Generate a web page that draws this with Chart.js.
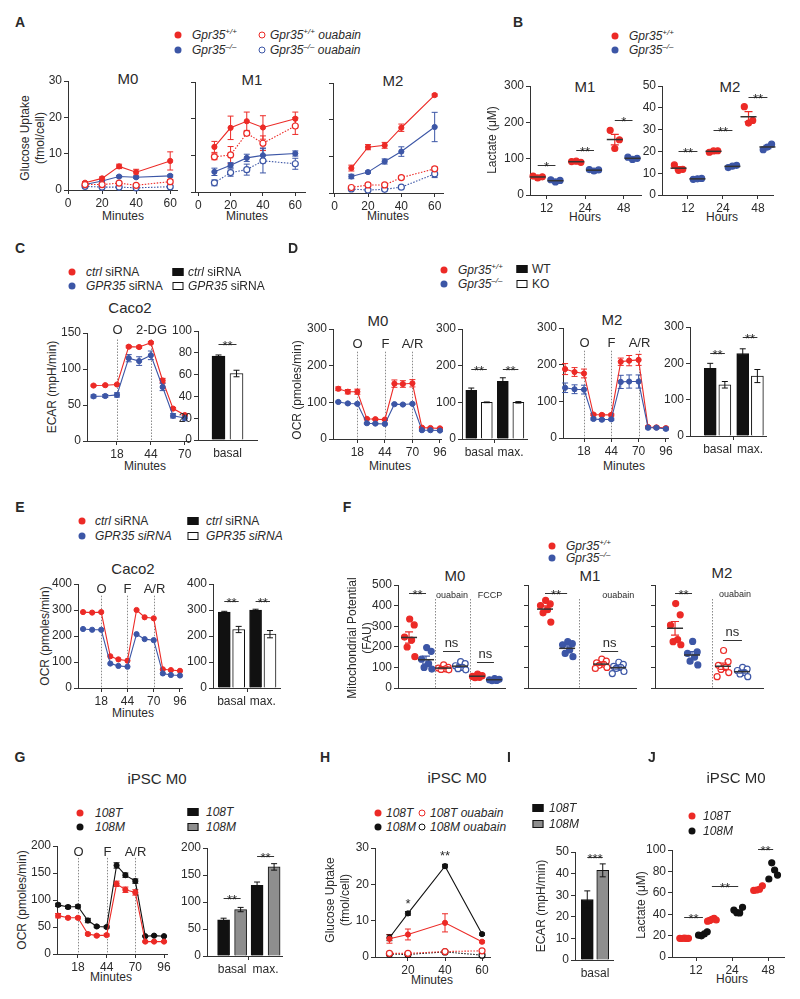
<!DOCTYPE html>
<html>
<head>
<meta charset="utf-8">
<script src="https://cdn.jsdelivr.net/npm/chart.js@4.4.1/dist/chart.umd.min.js"></script>
<style>
  body { margin: 0; background: #fff; }
  #page { position: relative; width: 800px; height: 999px; overflow: hidden; font-family: "Liberation Sans", Arial, sans-serif; color: #2a2a2a; }
  .t { position: absolute; white-space: nowrap; transform: translate(-50%, -50%); font-size: 12px; line-height: 1; }
  .l { transform: translate(0, -50%); }
  .r { transform: translate(-50%, -50%) rotate(-90deg); }
  .p { font-weight: bold; font-size: 14px; }
  .h { font-size: 15px; }
  .m { position: absolute; transform: translate(-50%, -50%); box-sizing: border-box; }
  canvas { position: absolute; }
  sup { font-size: 8px; vertical-align: 5px; line-height: 0; }
</style>
</head>
<body>
<div id="page"></div>
<script>
"use strict";

//---- data ----
// A: glucose uptake (fmol/cell)
const aMinutes = [10, 20, 30, 40, 60];
const aTicksX = [0, 20, 40, 60];
const aTicksY = [0, 10, 20, 30];
const aM0Wt = [2.0, 3.2, 6.5, 4.9, 8.0];
const aM0WtErr = [0.3, 0.4, 0.6, 0.8, 2.5];
const aM0Ko = [1.5, 2.5, 3.7, 3.5, 3.9];
const aM0KoErr = [0.3, 0.3, 0.3, 0.3, 0.3];
const aM0WtOua = [1.5, 1.5, 1.9, 1.3, 2.3];
const aM0WtOuaErr = [0.3, 0.3, 0.3, 0.3, 0.6];
const aM0KoOua = [1.0, 0.8, 0.8, 0.6, 0.9];
const aM0KoOuaErr = [0.2, 0.2, 0.2, 0.2, 0.3];
const aM1Wt = [12.3, 17.5, 19.3, 17.6, 20.0];
const aM1WtErr = [1.5, 3.2, 2.5, 3.2, 1.8];
const aM1Ko = [5.5, 7.3, 9.3, 10.0, 10.5];
const aM1KoErr = [1.0, 0.7, 1.0, 2.0, 0.7];
const aM1WtOua = [9.6, 10.1, 16.0, 13.3, 18.0];
const aM1WtOuaErr = [0.8, 2.3, 0.5, 2.0, 2.3];
const aM1KoOua = [2.5, 5.3, 6.1, 8.5, 7.7];
const aM1KoOuaErr = [0.8, 1.0, 1.5, 3.3, 1.5];
const aM2Wt = [6.8, 12.5, 13.0, 17.8, 26.7];
const aM2WtErr = [0.8, 0.7, 0.8, 1.0, 0.3];
const aM2Ko = [4.5, 5.7, 8.6, 11.3, 18.0];
const aM2KoErr = [0.6, 0.3, 0.7, 1.3, 4.0];
const aM2WtOua = [1.5, 2.2, 2.2, 4.2, 6.6];
const aM2WtOuaErr = [0.3, 0.3, 0.3, 0.4, 0.5];
const aM2KoOua = [1.1, 0.8, 1.0, 1.6, 5.2];
const aM2KoOuaErr = [0.3, 0.3, 0.3, 0.3, 1.0];

// B: lactate (uM), three wells per time point
const bHours = ['12', '24', '48'];
const bM1Wt = [[52, 47, 50], [92, 93, 90], [178, 128, 152]];
const bM1Ko = [[42, 36, 40], [70, 66, 69], [104, 98, 101]];
const bM2Wt = [[13.8, 11.3, 11.8], [19.6, 20.2, 20.3], [40.5, 33.0, 34.2]];
const bM2Ko = [[7.2, 7.4, 7.6], [12.6, 13.2, 13.6], [20.8, 22.0, 23.3]];

// seahorse time points (minutes)
const seahorseMin = [0, 9, 18, 27, 35, 44, 53, 61, 70, 79, 87, 96];
const injTicks = [18, 44, 70, 96];

// C: ECAR Caco2
const cCtrl = [77, 77.5, 78.5, 131, 130.5, 136.5, 84, 45, 36];
const cCtrlErr = [1, 1, 1, 1.5, 1.5, 1.5, 3, 1.5, 1.5];
const cGpr35 = [62, 62.5, 64, 115, 111, 119, 75, 35, 32];
const cGpr35Err = [2, 2, 3, 5, 6, 6, 5, 3, 4];
const cBasalCtrl = [77];
const cBasalCtrlErr = [1];
const cBasalGpr35 = [61];
const cBasalGpr35Err = [3];

// D: OCR macrophages
const dM0Wt = [137, 129, 129, 55, 54, 53, 151, 150, 152, 31, 30, 29];
const dM0WtErr = [5, 6, 7, 2, 2, 2, 10, 9, 10, 2, 2, 2];
const dM0Ko = [101, 97, 96, 43, 42, 41, 95, 94, 96, 24, 24, 23];
const dM0KoErr = [2, 2, 2, 2, 2, 2, 2, 2, 2, 2, 2, 2];
const dM2Wt = [188, 180, 176, 64, 63, 63, 208, 211, 213, 30, 29, 27];
const dM2WtErr = [15, 12, 12, 3, 3, 3, 10, 14, 15, 3, 3, 3];
const dM2Ko = [137, 133, 132, 52, 50, 51, 153, 154, 154, 28, 28, 25];
const dM2KoErr = [13, 12, 12, 3, 3, 3, 18, 18, 18, 3, 3, 3];
const barCats = ['basal', '', 'max.'];
const dM0BarWt = [133, 157];
const dM0BarWtErr = [6, 10];
const dM0BarKo = [100, 100];
const dM0BarKoErr = [1, 2];
const dM2BarWt = [186, 227];
const dM2BarWtErr = [14, 13];
const dM2BarKo = [141, 165];
const dM2BarKoErr = [9, 18];

// E: OCR Caco2
const eCtrl = [292, 290, 292, 122, 110, 105, 300, 272, 268, 72, 69, 66];
const eGpr35 = [227, 224, 224, 94, 85, 82, 207, 188, 184, 56, 50, 48];
const eBarCtrl = [292, 300];
const eBarCtrlErr = [3, 3];
const eBarGpr35 = [225, 207];
const eBarGpr35Err = [12, 14];

// F: mitochondrial potential (FAU)
const fM0Wt = [335, 306, 247, 233, 199, 152];
const fM0Ko = [196, 178, 140, 118, 100, 92];
const fM0WtOua = [112, 100, 96, 93, 90, 88];
const fM0KoOua = [128, 118, 108, 100, 94, 88];
const fM0WtFccp = [68, 60, 56, 52, 50];
const fM0KoFccp = [46, 42, 40, 37, 36];
const fM1Wt = [425, 408, 400, 380, 365, 320];
const fM1Ko = [225, 215, 210, 185, 168, 152];
const fM1WtOua = [140, 130, 122, 115, 110, 100, 95];
const fM1KoOua = [125, 115, 105, 100, 95, 80, 70];
const fM2Wt = [410, 355, 305, 235, 225, 210];
const fM2Ko = [226, 175, 168, 150, 130, 112];
const fM2WtOua = [182, 128, 110, 100, 90, 75, 55];
const fM2KoOua = [100, 92, 85, 75, 68, 55];

// G: OCR iPSC M0
const g108T = [71, 67, 67, 37, 34, 35, 130, 119, 114, 23, 23, 23];
const g108TErr = [4, 2, 2, 2, 2, 2, 5, 5, 5, 1, 1, 1];
const g108M = [91, 87, 88, 62, 51, 50, 164, 146, 135, 33, 34, 33];
const g108MErr = [3, 3, 3, 4, 2, 2, 5, 4, 4, 1, 1, 1];
const gBar108T = [67, 131];
const gBar108TErr = [3, 6];
const gBar108M = [86, 165];
const gBar108MErr = [4, 6];

// H: glucose uptake iPSC M0
const hMinutes = [10, 20, 40, 60];
const hTicksX = [20, 40, 60];
const h108T = [5.0, 6.2, 9.4, 4.2];
const h108TErr = [1.2, 1.5, 2.5, 0.3];
const h108M = [5.3, 12.0, 25.0, 6.3];
const h108MErr = [0.8, 0.5, 0.5, 0.3];
const h108TOua = [1.0, 1.0, 1.5, 1.7];
const h108MOua = [0.8, 0.7, 1.4, 0.5];

// I: ECAR iPSC M0
const i108T = [28];
const i108TErr = [4];
const i108M = [41.5];
const i108MErr = [3];

// J: lactate iPSC M0
const jHours = ['12', '24', '48'];
const j108T = [[17.5, 17.3, 17.6, 17.4, 17.5], [33.5, 34.2, 35.2, 36.1, 34.6], [62.2, 62.6, 63.3, 66.6]];
const j108M = [[20.4, 19.8, 21.6, 23.6], [43.9, 41.4, 41.2, 46.4], [72.9, 88.0, 81.3, 76.6]];

//---- styles / helpers ----
const FONT = '"Liberation Sans", Arial, sans-serif';
const RED = "#ec2a26";
const BLUE = "#3c56a6";
const BLK = "#111111";
const GRAY = "#8e8e8e";
const AX = "#333333";
// horizontal scatter of dots inside a group (fraction of the spread)
const JITTER = [0.1, 0.8, -0.7, 0.4, -0.3, 0.9, -0.9];

Chart.defaults.font.family = FONT;
Chart.defaults.font.size = 12;
Chart.defaults.color = "#2a2a2a";

const page = document.getElementById("page");

function T(x, y, html, cls, style) {
  const d = document.createElement("div");
  d.className = "t " + (cls || "");
  d.style.left = x + "px";
  d.style.top = y + "px";
  d.innerHTML = html;
  if (style) Object.assign(d.style, style);
  page.appendChild(d);
}
function dot(x, y, color, open) {
  const d = document.createElement("div");
  d.className = "m";
  Object.assign(d.style, { left: x + "px", top: y + "px", width: "7px", height: "7px", borderRadius: "50%",
    background: open ? "#fff" : color, border: open ? "1.2px solid " + color : "none" });
  page.appendChild(d);
}
function box(x, y, fill) {
  const d = document.createElement("div");
  d.className = "m";
  Object.assign(d.style, { left: x + "px", top: y + "px", width: "11px", height: "8px", background: fill, border: "1px solid #111" });
  page.appendChild(d);
}

function text(ctx, s, x, y, size, base) {
  ctx.font = size + "px " + FONT;
  ctx.fillStyle = "#2a2a2a";
  ctx.textAlign = "center";
  ctx.textBaseline = base;
  ctx.fillText(s, x, y);
}

function drawErrors(chart, bars) {
  const { ctx } = chart;
  const y = chart.scales.y;
  chart.data.datasets.forEach((ds, i) => {
    if (!ds.err) return;
    const meta = chart.getDatasetMeta(i);
    if ((meta.type === "bar") !== bars) return;
    ctx.save();
    ctx.strokeStyle = ds.errColor;
    ctx.lineWidth = 1;
    meta.data.forEach((el, j) => {
      const e = ds.err[j];
      if (!e) return;
      const v = ds.data[j].y;
      const px = el.x;
      const y1 = y.getPixelForValue(v + e), y2 = y.getPixelForValue(v - e);
      ctx.beginPath();
      ctx.moveTo(px, y1); ctx.lineTo(px, y2);
      ctx.moveTo(px - 3, y1); ctx.lineTo(px + 3, y1);
      ctx.moveTo(px - 3, y2); ctx.lineTo(px + 3, y2);
      ctx.stroke();
    });
    ctx.restore();
  });
}

// mean +/- sem for dot clusters
function drawSummaries(chart, w) {
  const { ctx, scales: { x, y } } = chart;
  chart.data.datasets.forEach((ds) => {
    if (ds.summary === undefined) return;
    const vals = ds.data.map(p => p.y);
    const n = vals.length;
    const m = vals.reduce((a, b) => a + b, 0) / n;
    const sd = Math.sqrt(vals.reduce((a, b) => a + (b - m) * (b - m), 0) / (n - 1));
    const sem = sd / Math.sqrt(n);
    const px = x.getPixelForValue(ds.summary);
    const py = y.getPixelForValue(m);
    ctx.save();
    ctx.strokeStyle = ds.errColor;
    ctx.lineWidth = 1.2;
    const y1 = y.getPixelForValue(m + sem), y2 = y.getPixelForValue(m - sem);
    ctx.beginPath();
    ctx.moveTo(px, y1); ctx.lineTo(px, y2);
    ctx.moveTo(px - 4, y1); ctx.lineTo(px + 4, y1);
    ctx.moveTo(px - 4, y2); ctx.lineTo(px + 4, y2);
    ctx.stroke();
    ctx.strokeStyle = "#333";
    ctx.lineWidth = 1.5;
    ctx.beginPath();
    ctx.moveTo(px - w / 2, py); ctx.lineTo(px + w / 2, py);
    ctx.stroke();
    ctx.restore();
  });
}

function marks(o) {
  return {
    id: "marks",
    beforeDatasetsDraw(chart) {
      const { ctx, chartArea: a, scales: { x, y } } = chart;
      ctx.save();
      (o.vlines || []).forEach(v => {
        const px = Math.round(x.getPixelForValue(v.x)) + 0.5;
        ctx.strokeStyle = "#8a8a8a";
        ctx.lineWidth = 1;
        ctx.setLineDash([1.5, 1.5]);
        ctx.beginPath();
        ctx.moveTo(px, y.getPixelForValue(v.from));
        ctx.lineTo(px, a.bottom);
        ctx.stroke();
        ctx.setLineDash([]);
        if (v.label) text(ctx, v.label, px, y.getPixelForValue(v.at), 13, "middle");
      });
      ctx.restore();
      drawErrors(chart, false);
    },
    afterDatasetsDraw(chart) {
      drawErrors(chart, true);
      drawSummaries(chart, o.meanW || 16);
      const { ctx, scales: { x, y } } = chart;
      ctx.save();
      (o.sig || []).forEach(s => {
        const x1 = x.getPixelForValue(s.x1), x2 = x.getPixelForValue(s.x2);
        const py = Math.round(y.getPixelForValue(s.y)) + 0.5;
        ctx.strokeStyle = "#333";
        ctx.lineWidth = 1;
        ctx.beginPath(); ctx.moveTo(x1, py); ctx.lineTo(x2, py); ctx.stroke();
        const star = s.text.indexOf("*") >= 0;
        text(ctx, s.text, (x1 + x2) / 2, star ? py + 5 : py - 2, 13, star ? "alphabetic" : "bottom");
      });
      (o.texts || []).forEach(t => {
        text(ctx, t.text, x.getPixelForValue(t.x), y.getPixelForValue(t.y), t.size || 9, "middle");
      });
      ctx.restore();
    }
  };
}

function axis(min, max, ticks, labels, hideLabeled) {
  return {
    type: "linear", min, max, offset: false,
    afterBuildTicks: s => { s.ticks = ticks.map(value => ({ value })); },
    ticks: { autoSkip: false, maxRotation: 0, padding: 2, color: "#2a2a2a", font: { size: 12 },
      callback: (v, i) => (labels ? String(labels[i]) : "") },
    grid: { drawOnChartArea: false, offset: false, tickLength: 4, color: AX,
      tickColor: c => (hideLabeled && c.tick && labels && labels[ticks.indexOf(c.tick.value)] !== "") ? "rgba(0,0,0,0)" : AX },
    border: { display: true, color: AX, width: 1 }
  };
}

const PL = 40, PR = 14, PT = 30, PB = 22;
function plot(r, type, datasets, xs, ys, extras) {
  const c = document.createElement("canvas");
  c.width = r.r - r.l + PL + PR;
  c.height = r.b - r.t + PT + PB;
  c.style.left = (r.l - PL) + "px";
  c.style.top = (r.t - PT) + "px";
  page.appendChild(c);
  xs.afterFit = s => { s.height = PB; };
  ys.afterFit = s => { s.width = PL; };
  return new Chart(c, {
    type,
    data: { datasets },
    options: {
      responsive: false, animation: false,
      layout: { padding: { top: PT, right: PR, left: 0, bottom: 0 } },
      scales: { x: xs, y: ys },
      plugins: { legend: { display: false }, tooltip: { enabled: false } }
    },
    plugins: [marks(extras || {})]
  });
}

function lineSet(xs, ys, err, color, open, dash) {
  return {
    data: xs.map((x, i) => ({ x, y: ys[i] })),
    err, errColor: color,
    borderColor: color, backgroundColor: open ? "#fff" : color,
    pointBackgroundColor: open ? "#fff" : color, pointBorderColor: color,
    pointRadius: open ? 3 : 2.6, pointBorderWidth: open ? 1.2 : 1,
    borderWidth: 1.1, borderDash: dash ? [1.5, 1.5] : [], tension: 0, clip: false
  };
}

function barSet(vals, err, fill, shift, thick) {
  return {
    data: vals.map((v, i) => ({ x: i + 1 + shift, y: v })),
    err, errColor: "#111",
    backgroundColor: fill, borderColor: "#111", borderWidth: 1,
    barThickness: thick, grouped: false
  };
}

function cluster(vals, cx, color, open, spread, summary, scatter) {
  const n = vals.length;
  const off = i => scatter ? JITTER[i % JITTER.length] : (n > 1 ? (i / (n - 1) - 0.5) * 2 : 0);
  return {
    data: vals.map((v, i) => ({ x: cx + off(i) * spread, y: v })),
    summary: summary ? cx : undefined, errColor: color,
    pointRadius: 3, pointBackgroundColor: open ? "#fff" : color, pointBorderColor: color,
    pointBorderWidth: 1.2, clip: false
  };
}

//---- panel A ----
T(20, 22, "A", "p");
dot(178, 35, RED); T(192, 35, "<i>Gpr35<sup>+/+</sup></i>", "l");
dot(178, 50, BLUE); T(192, 50, "<i>Gpr35<sup>–/–</sup></i>", "l");
dot(262, 35, RED, true); T(270, 35, "<i>Gpr35<sup>+/+</sup> ouabain</i>", "l");
dot(262, 50, BLUE, true); T(270, 50, "<i>Gpr35<sup>–/–</sup> ouabain</i>", "l");
T(128, 78, "M0", "h"); T(252, 79, "M1", "h"); T(393, 80, "M2", "h");
T(25, 138, "Glucose Uptake", "r"); T(40, 138, "(fmol/cell)", "r");
T(123, 216, "Minutes"); T(247, 216, "Minutes"); T(388, 216, "Minutes");

const aSets = (wt, wtE, ko, koE, wo, woE, kOu, kOuE) => [
  lineSet(aMinutes, wo, woE, RED, true, true),
  lineSet(aMinutes, kOu, kOuE, BLUE, true, true),
  lineSet(aMinutes, wt, wtE, RED),
  lineSet(aMinutes, ko, koE, BLUE)
];
plot({ l: 68, t: 81, r: 177, b: 190 }, "line",
  aSets(aM0Wt, aM0WtErr, aM0Ko, aM0KoErr, aM0WtOua, aM0WtOuaErr, aM0KoOua, aM0KoOuaErr),
  axis(0, 64, aTicksX, aTicksX), axis(0, 30, aTicksY, aTicksY));
plot({ l: 195, t: 82, r: 305, b: 192 }, "line",
  aSets(aM1Wt, aM1WtErr, aM1Ko, aM1KoErr, aM1WtOua, aM1WtOuaErr, aM1KoOua, aM1KoOuaErr),
  axis(-2, 66, aTicksX, aTicksX), axis(0, 30, aTicksY, null));
plot({ l: 333, t: 83, r: 443, b: 193 }, "line",
  aSets(aM2Wt, aM2WtErr, aM2Ko, aM2KoErr, aM2WtOua, aM2WtOuaErr, aM2KoOua, aM2KoOuaErr),
  axis(-1, 65, aTicksX, aTicksX), axis(0, 30, aTicksY, null));

//---- panel B ----
T(518, 22, "B", "p");
dot(615, 36, RED); T(629, 36, "<i>Gpr35<sup>+/+</sup></i>", "l");
dot(615, 50, BLUE); T(629, 50, "<i>Gpr35<sup>–/–</sup></i>", "l");
T(585, 86, "M1", "h"); T(730, 86, "M2", "h");
T(492, 140, "Lactate (μM)", "r");
T(585, 217, "Hours"); T(722, 217, "Hours");

const bSets = (wt, ko, d) => wt.flatMap((v, k) => [
  cluster(v, k + 1 - d, RED, false, 0.12, true),
  cluster(ko[k], k + 1 + d, BLUE, false, 0.12, true)
]);
plot({ l: 530, t: 86, r: 641, b: 195 }, "scatter", bSets(bM1Wt, bM1Ko, 0.23),
  axis(0.57, 3.45, [1, 2, 3], bHours), axis(0, 300, [0, 100, 200, 300], [0, 100, 200, 300]),
  { sig: [{ x1: 0.77, x2: 1.23, y: 83, text: "*" }, { x1: 1.77, x2: 2.23, y: 124, text: "**" }, { x1: 2.77, x2: 3.23, y: 206, text: "*" }] });
plot({ l: 662, t: 86, r: 773, b: 195 }, "scatter", bSets(bM2Wt, bM2Ko, 0.27),
  axis(0.257, 3.43, [1, 2, 3], bHours), axis(0, 50, [0, 10, 20, 30, 40, 50], [0, 10, 20, 30, 40, 50]),
  { sig: [{ x1: 0.73, x2: 1.27, y: 20, text: "**" }, { x1: 1.73, x2: 2.27, y: 30, text: "**" }, { x1: 2.73, x2: 3.27, y: 45, text: "**" }] });

//---- panel C ----
T(20, 248, "C", "p");
dot(72, 272, RED); T(86, 272, "<i>ctrl</i> siRNA", "l");
dot(72, 286, BLUE); T(86, 286, "<i>GPR35</i> siRNA", "l");
box(178, 272, BLK); T(188, 272, "<i>ctrl</i> siRNA", "l");
box(178, 286, "#fff"); T(188, 286, "<i>GPR35</i> siRNA", "l");
T(130, 307, "Caco2", "h");
T(52, 387, "ECAR (mpH/min)", "r");
T(145, 466, "Minutes");

const cMin = seahorseMin.slice(0, 9);
plot({ l: 87, t: 333, r: 190, b: 441 }, "line",
  [lineSet(cMin, cGpr35, cGpr35Err, BLUE), lineSet(cMin, cCtrl, cCtrlErr, RED)],
  axis(-5, 74, [18, 44, 70], [18, 44, 70]), axis(0, 150, [0, 50, 100, 150], [0, 50, 100, 150]),
  { vlines: [{ x: 18, from: 141, at: 154, label: "O" }, { x: 44, from: 141, at: 154, label: "2-DG" }] });
plot({ l: 198, t: 331, r: 257, b: 440 }, "bar",
  [barSet(cBasalCtrl, cBasalCtrlErr, BLK, -0.305, 13), barSet(cBasalGpr35, cBasalGpr35Err, "#fff", 0.305, 13)],
  axis(0, 2, [1], ["basal"], true), axis(0, 100, [0, 20, 40, 60, 80, 100], [0, 20, 40, 60, 80, 100]),
  { sig: [{ x1: 0.695, x2: 1.305, y: 88, text: "**" }] });

//---- panel D ----
T(293, 248, "D", "p");
dot(444, 270, RED); T(458, 270, "<i>Gpr35<sup>+/+</sup></i>", "l");
dot(444, 284, BLUE); T(458, 284, "<i>Gpr35<sup>–/–</sup></i>", "l");
box(522, 269, BLK); T(532, 269, "WT", "l");
box(522, 284, "#fff"); T(532, 284, "KO", "l");
T(378, 320, "M0", "h"); T(612, 319, "M2", "h");
T(297, 390, "OCR (pmoles/min)", "r");
T(390, 466, "Minutes"); T(624, 466, "Minutes");

const ocrY = [0, 100, 200, 300];
const barTicks = [1, 1.5, 2];
const dLines = [{ x: 18, from: 238, at: 258, label: "O" }, { x: 44, from: 238, at: 258, label: "F" }, { x: 70, from: 238, at: 258, label: "A/R" }];
plot({ l: 333, t: 329, r: 441, b: 439 }, "line",
  [lineSet(seahorseMin, dM0Ko, dM0KoErr, BLUE), lineSet(seahorseMin, dM0Wt, dM0WtErr, RED)],
  axis(-5, 97, injTicks, injTicks), axis(0, 300, ocrY, ocrY), { vlines: dLines });
plot({ l: 462, t: 329, r: 527, b: 439 }, "bar",
  [barSet(dM0BarWt, dM0BarWtErr, BLK, -0.246, 11), barSet(dM0BarKo, dM0BarKoErr, "#fff", 0.246, 11)],
  axis(0.46, 2.52, barTicks, barCats, true), axis(0, 300, ocrY, ocrY),
  { sig: [{ x1: 0.754, x2: 1.246, y: 190, text: "**" }, { x1: 1.754, x2: 2.246, y: 190, text: "**" }] });
plot({ l: 563, t: 328, r: 668, b: 438 }, "line",
  [lineSet(seahorseMin, dM2Ko, dM2KoErr, BLUE), lineSet(seahorseMin, dM2Wt, dM2WtErr, RED)],
  axis(-2, 98, injTicks, injTicks), axis(0, 300, ocrY, ocrY), { vlines: dLines });
plot({ l: 690, t: 327, r: 766, b: 436 }, "bar",
  [barSet(dM2BarWt, dM2BarWtErr, BLK, -0.225, 12), barSet(dM2BarKo, dM2BarKoErr, "#fff", 0.225, 12)],
  axis(0.154, 2.49, barTicks, barCats, true), axis(0, 300, ocrY, ocrY),
  { sig: [{ x1: 0.775, x2: 1.225, y: 228, text: "**" }, { x1: 1.775, x2: 2.225, y: 272, text: "**" }] });

//---- panel E ----
T(20, 507, "E", "p");
dot(82, 521, RED); T(95, 521, "<i>ctrl</i> siRNA", "l");
dot(82, 536, BLUE); T(95, 536, "<i>GPR35 siRNA</i>", "l");
box(193, 521, BLK); T(206, 521, "<i>ctrl</i> siRNA", "l");
box(193, 536, "#fff"); T(206, 536, "<i>GPR35 siRNA</i>", "l");
T(133, 568, "Caco2", "h");
T(45, 636, "OCR (pmoles/min)", "r");
T(133, 713, "Minutes");

const eY = [0, 100, 200, 300, 400];
plot({ l: 78, t: 584, r: 182, b: 688 }, "line",
  [lineSet(seahorseMin, eGpr35, null, BLUE), lineSet(seahorseMin, eCtrl, null, RED)],
  axis(-5, 98, injTicks, injTicks), axis(0, 400, eY, eY),
  { vlines: [{ x: 18, from: 355, at: 378, label: "O" }, { x: 44, from: 355, at: 378, label: "F" }, { x: 70, from: 355, at: 378, label: "A/R" }] });
plot({ l: 213, t: 584, r: 280, b: 688 }, "bar",
  [barSet(eBarCtrl, eBarCtrlErr, BLK, -0.23, 12), barSet(eBarGpr35, eBarGpr35Err, "#fff", 0.23, 12)],
  axis(0.41, 2.55, barTicks, barCats, true), axis(0, 400, eY, eY),
  { sig: [{ x1: 0.77, x2: 1.23, y: 335, text: "**" }, { x1: 1.77, x2: 2.23, y: 335, text: "**" }] });

//---- panel F ----
T(347, 507, "F", "p");
dot(552, 546, RED); T(566, 546, "<i>Gpr35<sup>+/+</sup></i>", "l");
dot(552, 558, BLUE); T(566, 558, "<i>Gpr35<sup>–/–</sup></i>", "l");
T(455, 575, "M0", "h"); T(590, 575, "M1", "h"); T(722, 572, "M2", "h");
T(352, 638, "Mitochondrial Potential", "r"); T(367, 638, "(FAU)", "r");

const fY = [0, 100, 200, 300, 400, 500];
const fSp = 0.38;
const fDot = (vals, cx, color, open) => cluster(vals, cx, color, open, fSp, true, true);
plot({ l: 398, t: 585, r: 505, b: 688 }, "scatter", [
  fDot(fM0Wt, 1, RED), fDot(fM0Ko, 2, BLUE),
  fDot(fM0WtOua, 3, RED, true), fDot(fM0KoOua, 4, BLUE, true),
  fDot(fM0WtFccp, 5, RED), fDot(fM0KoFccp, 6, BLUE)
], axis(0.35, 6.65, [], []), axis(0, 500, fY, fY), {
  vlines: [{ x: 2.5, from: 432 }, { x: 4.6, from: 432 }],
  texts: [{ x: 3.53, y: 451, text: "ouabain" }, { x: 5.76, y: 451, text: "FCCP" }],
  sig: [{ x1: 1, x2: 2, y: 460, text: "**" }, { x1: 3, x2: 4, y: 180, text: "ns" }, { x1: 5, x2: 6, y: 125, text: "ns" }]
});
plot({ l: 528, t: 585, r: 636, b: 688 }, "scatter", [
  fDot(fM1Wt, 1, RED), fDot(fM1Ko, 2.3, BLUE),
  fDot(fM1WtOua, 4.3, RED, true), fDot(fM1KoOua, 5.3, BLUE, true)
], axis(0, 6.35, [], []), axis(0, 500, fY, null), {
  vlines: [{ x: 3.0, from: 432 }],
  texts: [{ x: 5.3, y: 451, text: "ouabain" }],
  sig: [{ x1: 1, x2: 2.3, y: 460, text: "**" }, { x1: 4.3, x2: 5.3, y: 180, text: "ns" }]
});
plot({ l: 655, t: 585, r: 763, b: 688 }, "scatter", [
  fDot(fM2Wt, 1, RED), fDot(fM2Ko, 2, BLUE),
  fDot(fM2WtOua, 3.82, RED, true), fDot(fM2KoOua, 4.94, BLUE, true)
], axis(-0.18, 6.18, [], []), axis(0, 500, fY, null), {
  vlines: [{ x: 3.18, from: 432 }],
  texts: [{ x: 4.53, y: 455, text: "ouabain" }],
  sig: [{ x1: 1, x2: 2, y: 460, text: "**" }, { x1: 3.82, x2: 4.94, y: 233, text: "ns" }]
});

//---- panel G ----
T(20, 757, "G", "p");
T(157, 778, "iPSC M0", "h");
dot(80, 813, RED); T(95, 813, "<i>108T</i>", "l");
dot(80, 827, BLK); T(95, 827, "<i>108M</i>", "l");
box(193, 812, BLK); T(206, 812, "<i>108T</i>", "l");
box(193, 827, GRAY); T(206, 827, "<i>108M</i>", "l");
T(22, 900, "OCR (pmoles/min)", "r");
T(111, 977, "Minutes");

const gY = [0, 50, 100, 150, 200];
plot({ l: 57, t: 846, r: 167, b: 954 }, "line",
  [lineSet(seahorseMin, g108T, g108TErr, RED), lineSet(seahorseMin, g108M, g108MErr, BLK)],
  axis(-1, 98.7, injTicks, injTicks), axis(0, 200, gY, gY),
  { vlines: [{ x: 18, from: 178, at: 189, label: "O" }, { x: 44, from: 178, at: 189, label: "F" }, { x: 70, from: 178, at: 189, label: "A/R" }] });
plot({ l: 207, t: 848, r: 282, b: 956 }, "bar",
  [barSet(gBar108T, gBar108TErr, BLK, -0.254, 12), barSet(gBar108M, gBar108MErr, GRAY, 0.254, 12)],
  axis(0.25, 2.49, barTicks, barCats, true), axis(0, 200, gY, gY),
  { sig: [{ x1: 0.746, x2: 1.254, y: 108, text: "**" }, { x1: 1.746, x2: 2.254, y: 185, text: "**" }] });

//---- panel H ----
T(325, 757, "H", "p");
T(457, 777, "iPSC M0", "h");
dot(378, 813, RED); T(386, 813, "<i>108T</i>", "l");
dot(378, 827, BLK); T(386, 827, "<i>108M</i>", "l");
dot(422, 813, RED, true); T(430, 813, "<i>108T ouabain</i>", "l");
dot(422, 827, BLK, true); T(430, 827, "<i>108M ouabain</i>", "l");
T(330, 900, "Glucose Uptake", "r"); T(345, 900, "(fmol/cell)", "r");
T(432, 980, "Minutes");

plot({ l: 375, t: 848, r: 490, b: 957 }, "line", [
  lineSet(hMinutes, h108TOua, null, RED, true, true),
  lineSet(hMinutes, h108MOua, null, BLK, true, true),
  lineSet(hMinutes, h108T, h108TErr, RED),
  lineSet(hMinutes, h108M, h108MErr, BLK)
], axis(2.2, 64.3, hTicksX, hTicksX), axis(0, 30, aTicksY, aTicksY), {
  texts: [{ x: 20, y: 14.6, text: "*", size: 13 }, { x: 40, y: 27.6, text: "**", size: 13 }]
});

//---- panel I ----
T(509, 757, "I", "p");
box(538, 808, BLK); T(549, 808, "<i>108T</i>", "l");
box(538, 824, GRAY); T(549, 824, "<i>108M</i>", "l");
T(541, 906, "ECAR (mpH/min)", "r");

plot({ l: 575, t: 852, r: 613, b: 960 }, "bar",
  [barSet(i108T, i108TErr, BLK, -0.258, 12), barSet(i108M, i108MErr, GRAY, 0.258, 12)],
  axis(0.333, 1.6, [1], ["basal"], true), axis(0, 50, [0, 10, 20, 30, 40, 50], [0, 10, 20, 30, 40, 50]),
  { sig: [{ x1: 0.742, x2: 1.258, y: 47.5, text: "***" }] });

//---- panel J ----
T(652, 757, "J", "p");
T(736, 777, "iPSC M0", "h");
dot(692, 816, RED); T(703, 816, "<i>108T</i>", "l");
dot(692, 831, BLK); T(703, 831, "<i>108M</i>", "l");
T(641, 905, "Lactate (μM)", "r");
T(732, 979, "Hours");

const jShiftT = [-0.33, -0.56, -0.28];
const jShiftM = [0.19, 0.17, 0.14];
plot({ l: 672, t: 850, r: 784, b: 957 }, "scatter",
  j108T.flatMap((v, k) => [cluster(v, k + 1 + jShiftT[k], RED, false, 0.12, false), cluster(j108M[k], k + 1 + jShiftM[k], BLK, false, 0.12, false)]),
  axis(0.333, 3.44, [1, 2, 3], jHours), axis(0, 100, [0, 20, 40, 60, 80, 100], [0, 20, 40, 60, 80, 100]),
  { sig: [{ x1: 0.67, x2: 1.19, y: 37, text: "**" }, { x1: 1.44, x2: 2.17, y: 66, text: "**" }, { x1: 2.72, x2: 3.14, y: 101, text: "**" }] });
</script>
</body>
</html>
